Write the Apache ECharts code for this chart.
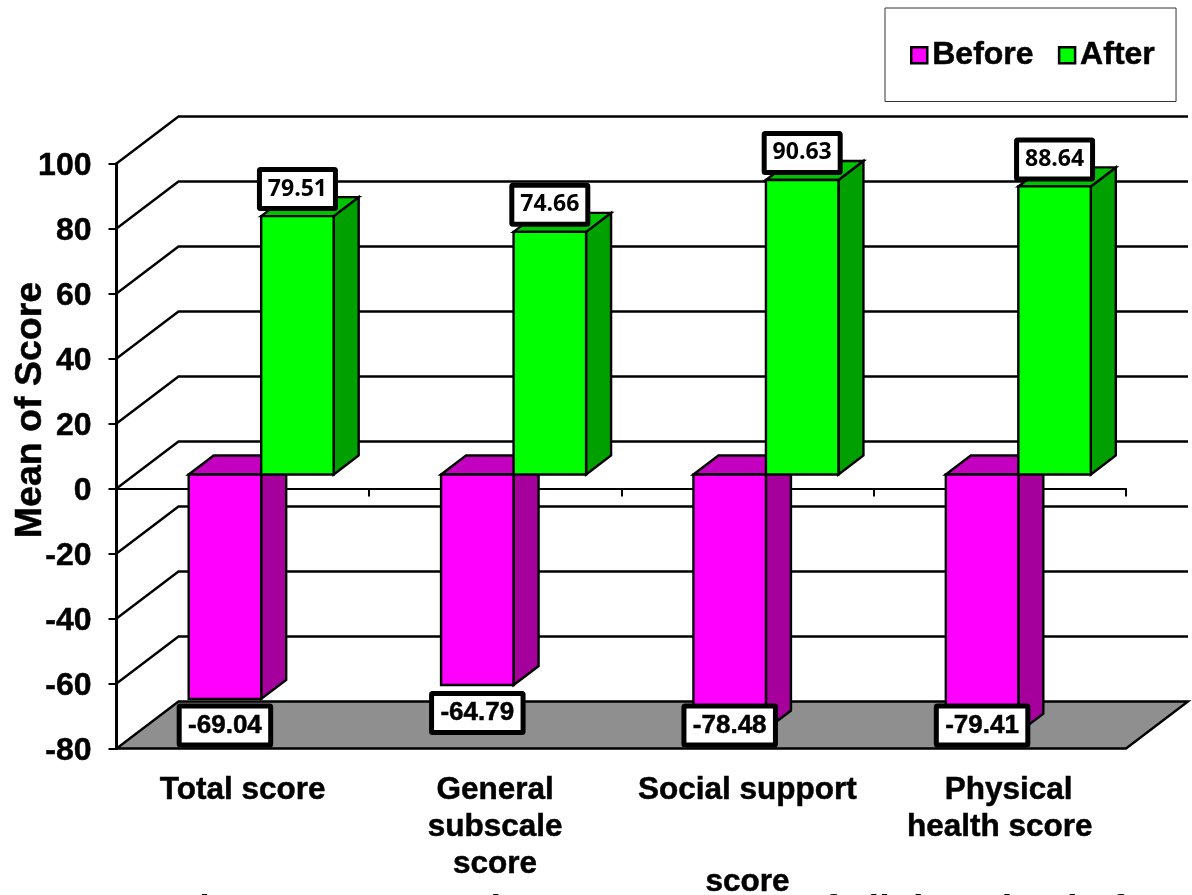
<!DOCTYPE html>
<html>
<head>
<meta charset="utf-8">
<style>html,body{margin:0;padding:0;background:#fff;overflow:hidden}#chart{width:1192px;height:895px}</style>
<script src="https://cdn.jsdelivr.net/npm/echarts@6/dist/echarts.min.js"></script>
</head>
<body>
<div id="chart"></div>
<script>
// Mean score per domain, before and after the intervention
const categories = ['Total score', 'General\nsubscale\nscore', 'Social support\nscore', 'Physical\nhealth score'];
const beforeValues = [-69.04, -64.79, -78.48, -79.41];
const afterValues = [79.51, 74.66, 90.63, 88.64];
const wallTicks = [-80, -60, -40, -20, 0, 20, 40, 60, 80, 100];

// Oblique projection used for the 3D look, in pixels
const WALL_DX = 62, WALL_DY = -47;
const BAR_SHIFT_X = 18.5, BAR_SHIFT_Y = -14;
const BAR_DX = 25, BAR_DY = -19;
const BAR_W = 72.5;
const SANS = '"Liberation Sans", Arial, sans-serif';
const HEAVY = { textBorderColor: '#000', textBorderWidth: 0.5 };

const palette = {
  Before: { front: '#ff00ff', top: '#c400c0', side: '#a6009c' },
  After: { front: '#00ff00', top: '#00c400', side: '#00a000' }
};

function poly(points, fill, z2) {
  return {
    type: 'polygon', z2: z2 || 1,
    shape: { points },
    style: { fill, stroke: '#000', lineWidth: 2.4, lineJoin: 'miter' }
  };
}

// Back wall, side wall and floor
function renderWall(params, api) {
  const sys = params.coordSys;
  const v = api.value(0);
  const y = api.coord([0, v])[1];
  const x0 = sys.x, x1 = sys.x + sys.width;
  const children = [];
  if (v === wallTicks[0]) {
    children.push(poly([[x0, y], [x1, y], [x1 + WALL_DX, y + WALL_DY], [x0 + WALL_DX, y + WALL_DY]], '#8f8f8f'));
  } else {
    children.push({
      type: 'polyline',
      shape: { points: [[x0, y], [x0 + WALL_DX, y + WALL_DY], [x1 + WALL_DX, y + WALL_DY]] },
      style: { fill: 'none', stroke: '#000', lineWidth: 2.4 }
    });
  }
  return { type: 'group', children };
}

function labelBox(cx, cy, text, w, h, font, heavy) {
  return [
    {
      type: 'rect', z2: 20,
      shape: { x: cx - w / 2, y: cy - h / 2, width: w, height: h, r: 1 },
      style: { fill: '#fff', stroke: '#000', lineWidth: 5 }
    },
    {
      type: 'text', z2: 21,
      style: {
        x: cx, y: cy, text, fill: '#000', font, align: 'center', verticalAlign: 'middle',
        stroke: heavy ? '#000' : null, lineWidth: heavy ? 0.5 : 0
      }
    }
  ];
}

// One extruded bar with its value box
function barRenderer(seriesName) {
  const colors = palette[seriesName];
  const isBefore = seriesName === 'Before';
  return function (params, api) {
    const i = api.value(0), v = api.value(1);
    const c = api.coord([i, 0]);
    const xc = c[0] + BAR_SHIFT_X;
    const xa = isBefore ? xc - BAR_W : xc;
    const xb = xa + BAR_W;
    const y0 = c[1] + BAR_SHIFT_Y;
    const yv = api.coord([i, v])[1] + BAR_SHIFT_Y;
    const yTop = Math.min(y0, yv), yBot = Math.max(y0, yv);
    const children = [
      poly([[xb, yTop], [xb + BAR_DX, yTop + BAR_DY], [xb + BAR_DX, yBot + BAR_DY], [xb, yBot]], colors.side),
      poly([[xa, yTop], [xa + BAR_DX, yTop + BAR_DY], [xb + BAR_DX, yTop + BAR_DY], [xb, yTop]], colors.top),
      poly([[xa, yTop], [xb, yTop], [xb, yBot], [xa, yBot]], colors.front)
    ];
    const mid = (xa + xb) / 2;
    const boxes = isBefore
      ? labelBox(mid, Math.min(yBot + 28, 725.5), v.toFixed(2), 91.5, 39, 'bold 26px ' + SANS, true)
      : labelBox(mid, yTop - 27, v.toFixed(2), 76, 39, 'bold 23px "Open Sans", sans-serif', false);
    return { type: 'group', children: children.concat(boxes) };
  };
}

const chart = echarts.init(document.getElementById('chart'), null, { renderer: 'canvas' });
chart.setOption({
  animation: false,
  backgroundColor: '#fff',
  textStyle: { fontFamily: SANS },
  title: {
    text: 'Figure 5: Comparison mean score of all domains before and after',
    left: 176, top: 893,
    padding: 0,
    textStyle: { fontFamily: SANS, fontWeight: 'bold', fontSize: 38, color: '#000' }
  },
  legend: {
    data: [
      { name: 'Before', icon: 'rect', itemStyle: { color: palette.Before.front, borderColor: '#000', borderWidth: 2.5 } },
      { name: 'After', icon: 'rect', itemStyle: { color: palette.After.front, borderColor: '#000', borderWidth: 2.5 } }
    ],
    left: 885, top: 8,
    padding: [31, 21, 30, 25],
    itemWidth: 16, itemHeight: 16, itemGap: 24,
    borderColor: '#333', borderWidth: 1,
    selectedMode: false,
    textStyle: Object.assign({ fontFamily: SANS, fontWeight: 'bold', fontSize: 32, color: '#000', padding: [2, 0, 0, 0] }, HEAVY)
  },
  grid: { left: 116.5, top: 163.5, width: 1009.5, height: 585, outerBoundsMode: 'none', containLabel: false },
  xAxis: [
    {
      type: 'category', data: categories, position: 'bottom',
      axisLine: { show: false, onZero: false },
      axisTick: { show: false },
      axisLabel: Object.assign({
        interval: 0, margin: 23, color: '#000',
        fontFamily: SANS, fontWeight: 'bold', fontSize: 31.5, lineHeight: 37,
        formatter: (name) => name
          .replace('support\n', 'support\n{gap| }\n')
          .replace('Physical\n', '\u00a0\u00a0Physical\n'),
        rich: { gap: { lineHeight: 55, fontSize: 10 } }
      }, HEAVY)
    },
    {
      type: 'category', data: categories, position: 'bottom',
      axisLine: { show: true, onZero: true, onZeroAxisIndex: 0, lineStyle: { color: '#000', width: 2 } },
      axisTick: { show: true, length: 8, inside: false, lineStyle: { color: '#000', width: 2 } },
      axisLabel: { show: false }
    }
  ],
  yAxis: {
    type: 'value', min: -80, max: 100, interval: 20,
    name: 'Mean of Score', nameLocation: 'middle', nameGap: 67, nameRotate: 90, nameMoveOverlap: false,
    nameTextStyle: Object.assign({ fontFamily: SANS, fontWeight: 'bold', fontSize: 37.5, color: '#000', padding: [0, 0, 0, 92] }, HEAVY),
    axisLine: { show: true, onZero: false, lineStyle: { color: '#000', width: 3 } },
    axisTick: { show: true, length: 8, lineStyle: { color: '#000', width: 2 } },
    axisLabel: Object.assign({
      color: '#000', fontFamily: SANS, fontWeight: 'bold', fontSize: 32, margin: 25,
      verticalAlign: 'top', lineHeight: 5
    }, HEAVY),
    splitLine: { show: false }
  },
  series: [
    {
      name: 'Walls', type: 'custom', xAxisIndex: 0, silent: true, z: 1, clip: false,
      renderItem: renderWall,
      data: wallTicks.map((t) => [t]),
      encode: { y: 0 }
    },
    {
      name: 'Before', type: 'custom', xAxisIndex: 0, z: 5, clip: false,
      itemStyle: { color: palette.Before.front },
      renderItem: barRenderer('Before'),
      data: beforeValues.map((v, i) => [i, v]),
      encode: { x: 0, y: 1 }
    },
    {
      name: 'After', type: 'custom', xAxisIndex: 0, z: 6, clip: false,
      itemStyle: { color: palette.After.front },
      renderItem: barRenderer('After'),
      data: afterValues.map((v, i) => [i, v]),
      encode: { x: 0, y: 1 }
    }
  ]
});
</script>
</body>
</html>
